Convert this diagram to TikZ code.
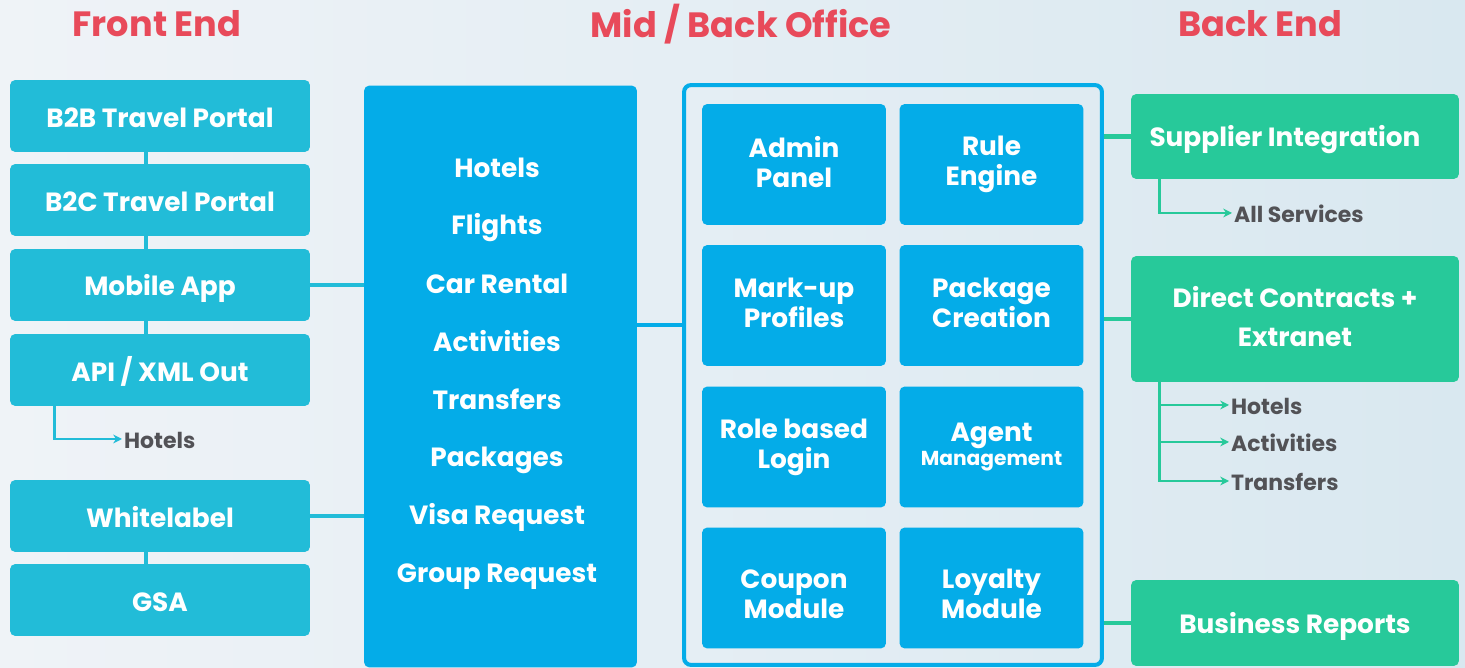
\documentclass[tikz,border=0pt]{standalone}
\usepackage{fontspec}
\setmainfont{Poppins}
\usepackage{tikz}
\usetikzlibrary{calc, positioning, arrows.meta}
\definecolor{titlered}{RGB}{232,74,90}
\definecolor{frontteal}{RGB}{34,188,216}
\definecolor{midblue}{RGB}{4,172,232}
\definecolor{backgreen}{RGB}{39,201,154}
\definecolor{sidegray}{RGB}{82,82,86}
\definecolor{bgleft}{RGB}{239,243,247}
\definecolor{bgright}{RGB}{217,232,240}
\newcommand{\capstrut}{\rule[-0.2em]{0pt}{1.25em}}
\tikzset{
    strutted/.style={execute at begin node=\capstrut, execute at end node=\capstrut},
    title/.style={font=\fontsize{20}{23}\selectfont\bfseries, text=titlered},
    front/.style={rectangle, rounded corners=3pt, fill=frontteal, text=white, align=center, strutted, minimum width=6cm, minimum height=1.44cm, font=\fontsize{15}{17}\selectfont\bfseries},
    module/.style={rectangle, rounded corners=3pt, fill=midblue, text=white, align=center, strutted, minimum width=3.68cm, minimum height=2.42cm, font=\fontsize{15}{17}\selectfont\bfseries},
    back/.style={rectangle, rounded corners=3pt, fill=backgreen, text=white, align=center, strutted, minimum width=6.56cm, font=\fontsize{15}{22.5}\selectfont\bfseries},
    item/.style={text=white, strutted, font=\fontsize{15}{17}\selectfont\bfseries},
    sub/.style={text=sidegray, anchor=west, inner sep=1pt, strutted, font=\fontsize{12.5}{14}\selectfont\bfseries},
    tealline/.style={draw=frontteal, line width=2.3pt},
    greenline/.style={draw=backgreen, line width=2.3pt},
    bluelink/.style={draw=midblue, line width=2.3pt},
    tealarrow/.style={-{Stealth[length=5pt, width=5pt]}, draw=frontteal, line width=1.6pt},
    greenarrow/.style={-{Stealth[length=5pt, width=5pt]}, draw=backgreen, line width=1.6pt}
}
\begin{document}
\begin{tikzpicture}[x=0.02cm, y=-0.02cm]

    % Background
    \shade[left color=bgleft, right color=bgright] (0,0) rectangle (1465,668);
    \useasboundingbox (0,0) rectangle (1465,668);

    % --- HEADINGS ---
    \node[title] (FrontTitle) at (157,24) {Front End};
    \node[title] (MidTitle) at (741,24) {Mid / Back Office};
    \node[title] (BackTitle) at (1260,24) {Back End};

    % --- FRONT END (Left Side) ---
    \node[front] (B2B) at (160,116) {B2B Travel Portal};
    \node[front] (B2C) at (160,200) {B2C Travel Portal};
    \node[front] (Mobile) at (160,285) {Mobile App};
    \node[front] (API) at (160,370) {API / XML Out};
    \node[front] (Whitelabel) at (160,516) {Whitelabel};
    \node[front] (GSA) at (160,600) {GSA};

    \draw[tealline] ([xshift=-0.28cm]B2B.south) -- ([xshift=-0.28cm]B2C.north);
    \draw[tealline] ([xshift=-0.28cm]B2C.south) -- ([xshift=-0.28cm]Mobile.north);
    \draw[tealline] ([xshift=-0.28cm]Mobile.south) -- ([xshift=-0.28cm]API.north);
    \draw[tealline] ([xshift=-0.28cm]Whitelabel.south) -- ([xshift=-0.28cm]GSA.north);

    % API output
    \node[sub] (APIHotels) at (122,439) {Hotels};
    \draw[tealarrow] ([xshift=0.9cm]API.south west) |- (APIHotels.west);

    % --- MID OFFICE (Service list) ---
    \node[rectangle, rounded corners=3pt, fill=midblue, minimum width=5.46cm, minimum height=11.64cm] (Services) at (500.5,376.5) {};
    \node[item] (SHotels) at (497,166) {Hotels};
    \node[item] (SFlights) at (497,224) {Flights};
    \node[item] (SCar) at (497,282) {Car Rental};
    \node[item] (SActivities) at (497,340) {Activities};
    \node[item] (STransfers) at (497,398) {Transfers};
    \node[item] (SPackages) at (497,456) {Packages};
    \node[item] (SVisa) at (497,514) {Visa Request};
    \node[item] (SGroup) at (497,572) {Group Request};

    \draw[tealline] (Mobile.east) -- (Mobile.east -| Services.west);
    \draw[tealline] (Whitelabel.east) -- (Whitelabel.east -| Services.west);

    % --- BACK OFFICE (Module grid) ---
    \node[rectangle, rounded corners=4pt, draw=midblue, line width=2.3pt, minimum width=8.36cm, minimum height=11.6cm] (Office) at (893,375) {};
    \draw[bluelink] (Services.east |- 0,325) -- (Office.west |- 0,325);

    \node[module] (Admin) at (794,164.5) {Admin\\Panel};
    \node[module] (Rule) at (991.5,164.5) {Rule\\Engine};
    \node[module] (Markup) at (794,305.5) {Mark-up\\Profiles};
    \node[module] (Package) at (991.5,305.5) {Package\\Creation};
    \node[module] (Role) at (794,447) {Role based\\Login};
    \node[module] (Agent) at (991.5,447) {Agent\\[-3pt]{\fontsize{11.5}{13}\selectfont Management}};
    \node[module] (Coupon) at (794,588) {\rule{0pt}{1.4em}Coupon\\Module};
    \node[module] (Loyalty) at (991.5,588) {\rule{0pt}{1.4em}Loyalty\\Module};

    % --- BACK END (Right Side) ---
    \node[back, minimum height=1.7cm] (Supplier) at (1295,136.5) {Supplier Integration\hspace*{0.4cm}};
    \node[back, minimum height=2.52cm] (Direct) at (1295,319) {Direct Contracts +\\Extranet};
    \node[back, minimum height=1.72cm] (Reports) at (1295,623) {Business Reports};

    \draw[greenline] (Office.east |- Supplier) -- (Supplier.west);
    \draw[greenline] (Office.east |- Direct) -- (Direct.west);
    \draw[greenline] (Office.east |- Reports) -- (Reports.west);

    % Supplier output
    \node[sub] (AllServices) at (1232,213) {All Services};
    \draw[greenarrow] ([xshift=0.58cm]Supplier.south west) |- (AllServices.west);

    % Contract outputs
    \node[sub] (DHotels) at (1229,405) {Hotels};
    \node[sub] (DActivities) at (1229,442) {Activities};
    \node[sub] (DTransfers) at (1229,481) {Transfers};
    \draw[greenarrow] ([xshift=0.58cm]Direct.south west) |- (DHotels.west);
    \draw[greenarrow] ([xshift=0.58cm]Direct.south west) |- (DActivities.west);
    \draw[greenarrow] ([xshift=0.58cm]Direct.south west) |- (DTransfers.west);

\end{tikzpicture}
\end{document}
